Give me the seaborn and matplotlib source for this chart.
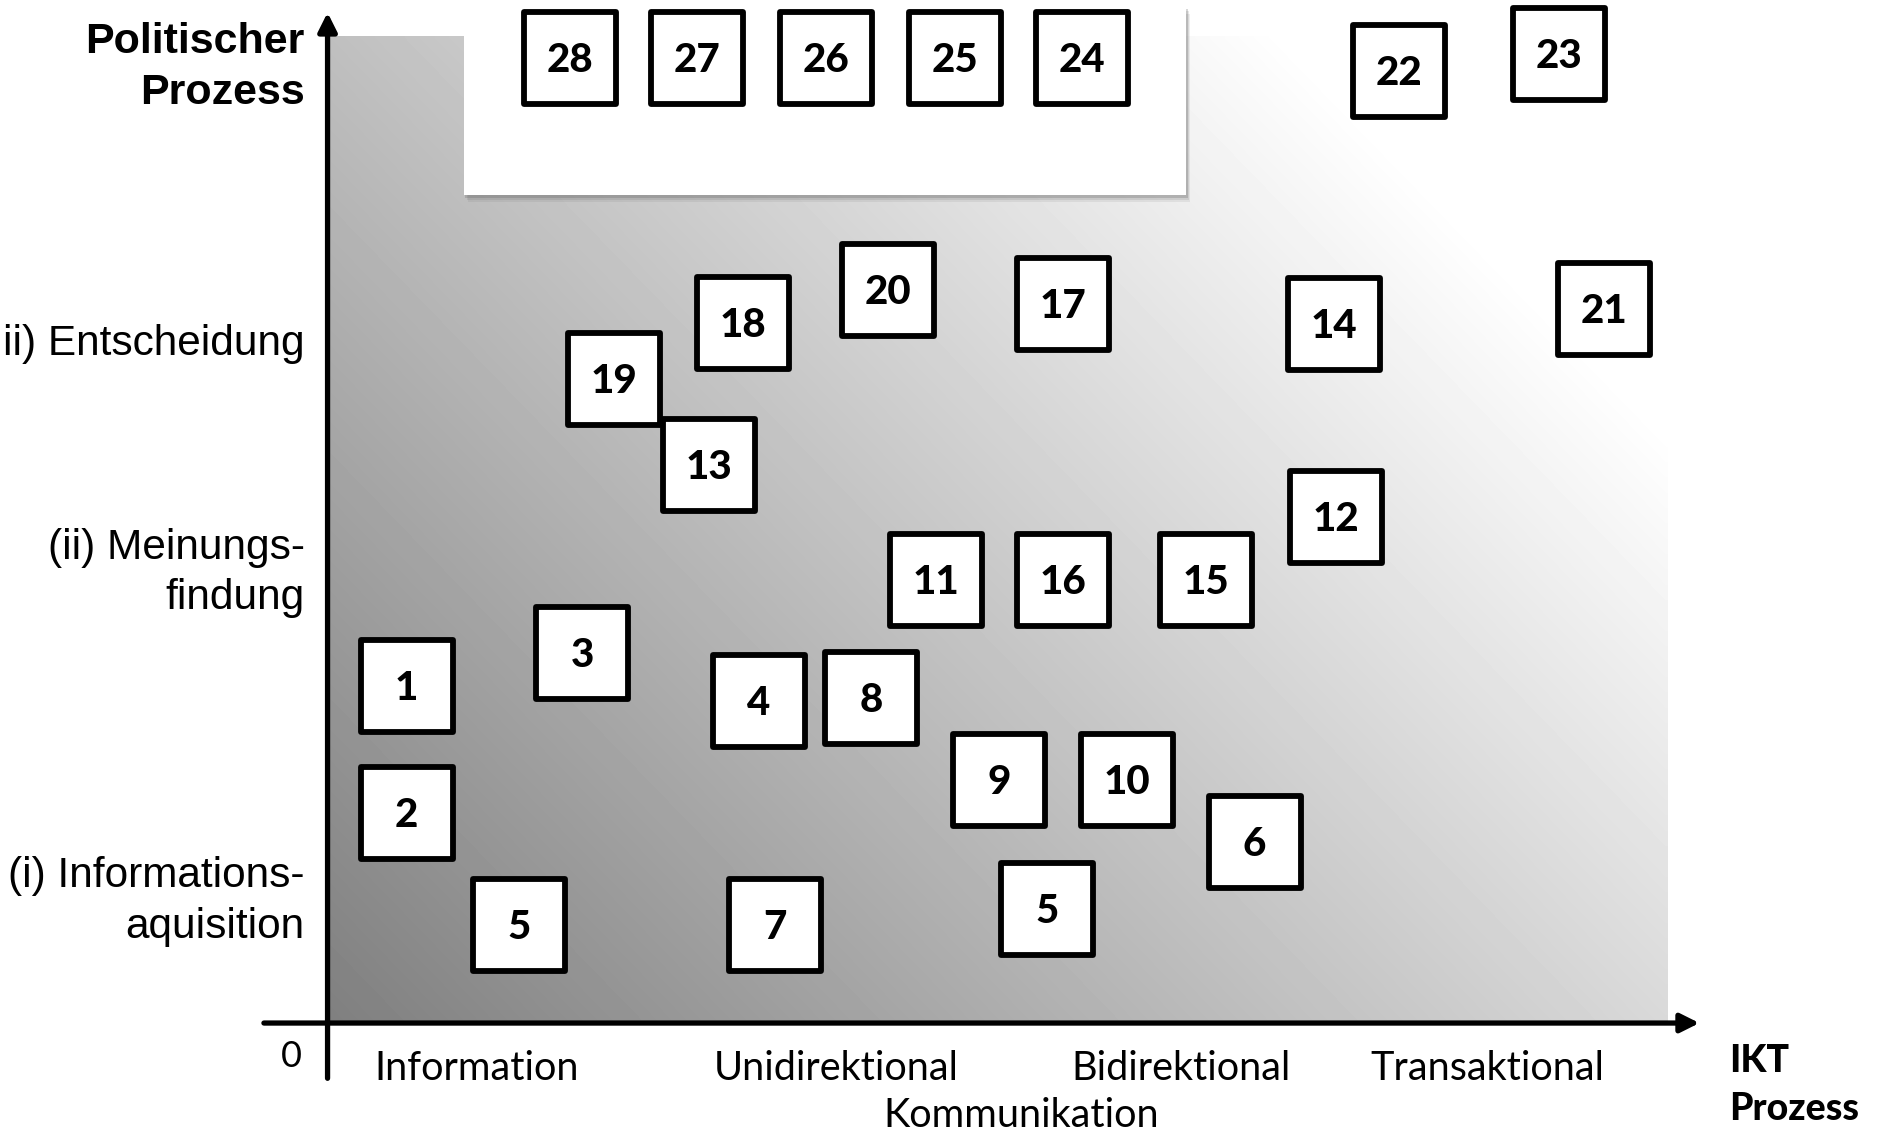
import numpy as np
import pandas as pd
import matplotlib
matplotlib.use('Agg')
import matplotlib.pyplot as plt
import seaborn as sns
from matplotlib.patches import Rectangle

# Box positions: x = IKT-Prozess (0..10), y = politischer Prozess (0..10)
box_labels = ['28', '27', '26', '25', '24', '22', '23',
              '20', '18', '17', '14', '21', '19', '13',
              '12', '11', '16', '15', '3', '1', '4', '8',
              '9', '10', '2', '6', '5', '7', '5']
box_x = [1.81, 2.76, 3.72, 4.68, 5.63, 8.00, 9.19,
         4.18, 3.10, 5.49, 7.51, 9.53, 2.14, 2.85,
         7.53, 4.54, 5.49, 6.56, 1.90, 0.59, 3.22, 4.06,
         5.01, 5.97, 0.59, 6.92, 1.43, 3.34, 5.37]
box_y = [9.78, 9.78, 9.78, 9.78, 9.78, 9.65, 9.82,
         7.43, 7.09, 7.29, 7.08, 7.24, 6.53, 5.65,
         5.13, 4.49, 4.49, 4.49, 3.75, 3.42, 3.26, 3.29,
         2.46, 2.46, 2.13, 1.83, 0.99, 0.99, 1.16]

x_categories = ['Information', 'Unidirektional', 'Bidirektional', 'Transaktional']
x_category_pos = [1.11, 3.80, 6.37, 8.66]
y_categories = ['(i) Informations-\naquisition', '(ii) Meinungs-\nfindung', 'ii) Entscheidung']
y_category_pos = [1.23, 4.56, 6.88]

# white panel behind boxes 24-28 (x0, x1, y0, y1)
panel = [1.02, 6.41, 8.39, 10.30]

df = pd.DataFrame({'label': box_labels, 'ikt': box_x, 'politik': box_y})

sns.set_theme(style='white')
plt.rcParams['font.family'] = ['Liberation Sans', 'DejaVu Sans']
plt.rcParams['text.color'] = 'black'

fig = plt.figure(figsize=(18.82, 11.31), dpi=100)
ax = fig.add_axes([0, 0, 1, 1])
ax.set_xlim(-2.445, 11.603)
ax.set_ylim(-1.094, 10.367)
ax.axis('off')

# diagonal grey gradient background
u, v = np.meshgrid(np.linspace(0, 1, 300), np.linspace(0, 1, 300))
grad = np.clip(0.5 + 0.35 * u + 0.25 * v, 0, 1)
ax.imshow(grad, cmap='gray', vmin=0, vmax=1, origin='lower',
          extent=[0, 10, 0, 10], aspect='auto', zorder=0, interpolation='bilinear')

# white panel with soft shadow
px, py = 1 / 111.0, 1 / 81.8
for k, a in zip([6, 4, 2], [0.10, 0.15, 0.25]):
    ax.add_patch(Rectangle((panel[0] + k * px * 0.5, panel[2] - k * py),
                           panel[1] - panel[0], panel[3] - panel[2],
                           facecolor='#606060', edgecolor='none', alpha=a, zorder=1))
ax.add_patch(Rectangle((panel[0], panel[2]), panel[1] - panel[0], panel[3] - panel[2],
                       facecolor='white', edgecolor='none', zorder=1.5))

# axes arrows
ax.annotate('', xy=(0, 10.24), xytext=(0, -0.56),
            arrowprops=dict(arrowstyle='-|>', lw=3.8, color='black', mutation_scale=28,
                            shrinkA=0, shrinkB=0), zorder=2)
ax.annotate('', xy=(10.24, 0), xytext=(-0.475, 0),
            arrowprops=dict(arrowstyle='-|>', lw=3.8, color='black', mutation_scale=28,
                            shrinkA=0, shrinkB=0), zorder=2)

# boxes
sns.scatterplot(data=df, x='ikt', y='politik', marker='s', s=4300, color='white',
                edgecolor='black', linewidth=4.2, ax=ax, zorder=3, legend=False)
for _, r in df.iterrows():
    ax.text(r['ikt'], r['politik'] - 0.025, r['label'], ha='center', va='center',
            fontsize=29, fontweight='black', family='Lato', zorder=4)

# axis labels
ax.text(-0.17, 9.68, 'Politischer\nProzess', ha='right', va='center',
        fontsize=31, fontweight='bold', linespacing=1.35)
for lab, yp in zip(y_categories, y_category_pos):
    ax.text(-0.17, yp, lab, ha='right', va='center', fontsize=30.5, linespacing=1.35)

ax.text(-0.27, -0.34, '0', ha='center', va='center', fontsize=26, family='Lato')
for lab, xp in zip(x_categories, x_category_pos):
    ax.text(xp, -0.46, lab, ha='center', va='center', fontsize=28.5, family='Lato')
ax.text(5.18, -0.94, 'Kommunikation', ha='center', va='center', fontsize=28.5, family='Lato')
ax.text(10.46, -0.63, 'IKT\nProzess', ha='left', va='center', fontsize=27,
        fontweight='black', family='Lato', linespacing=1.5)

fig.savefig('out.png', dpi=100)
